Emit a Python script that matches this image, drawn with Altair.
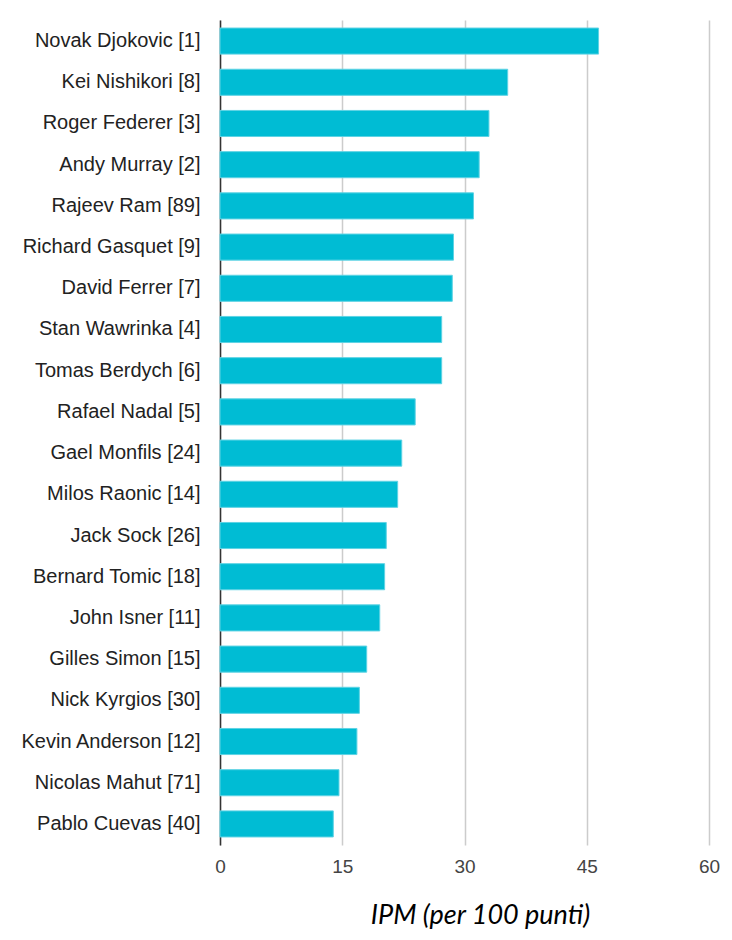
import altair as alt
import pandas as pd

players = [
    "Novak Djokovic [1]", "Kei Nishikori [8]", "Roger Federer [3]", "Andy Murray [2]",
    "Rajeev Ram [89]", "Richard Gasquet [9]", "David Ferrer [7]", "Stan Wawrinka [4]",
    "Tomas Berdych [6]", "Rafael Nadal [5]", "Gael Monfils [24]", "Milos Raonic [14]",
    "Jack Sock [26]", "Bernard Tomic [18]", "John Isner [11]", "Gilles Simon [15]",
    "Nick Kyrgios [30]", "Kevin Anderson [12]", "Nicolas Mahut [71]", "Pablo Cuevas [40]",
]
ipm = [46.45, 35.3, 33.0, 31.8, 31.1, 28.65, 28.5, 27.2, 27.2, 23.95,
       22.3, 21.8, 20.4, 20.2, 19.6, 18.0, 17.1, 16.8, 14.6, 13.9]
x_ticks = [0, 15, 30, 45, 60]

df = pd.DataFrame({"player": players, "ipm": ipm})

chart = alt.Chart(df).mark_bar(
    color="#00BCD4", stroke="#5ED3E4", strokeWidth=1
).encode(
    x=alt.X(
        "ipm:Q",
        scale=alt.Scale(domain=[0, 60], nice=False),
        axis=alt.Axis(
            values=x_ticks,
            title="IPM (per 100 punti)",
            titleFont="Lato",
            titleFontStyle="italic",
            titleFontWeight="normal",
            titleFontSize=27,
            titleColor="#000000",
            titleX=260,
            titleY=70,
            titleBaseline="middle",
            titleAnchor="middle",
            labelFont="Liberation Sans",
            labelFontSize=19,
            labelColor="#444444",
            labelPadding=12,
            labelFlush=False,
            ticks=False,
            domain=False,
            grid=True,
            gridColor="#CCCCCC",
            gridWidth=1.5,
        ),
    ),
    y=alt.Y(
        "player:N",
        sort=players,
        scale=alt.Scale(paddingInner=0.367, paddingOuter=0.195),
        axis=alt.Axis(
            title=None,
            labelFont="Liberation Sans",
            labelFontSize=20,
            labelColor="#222222",
            labelPadding=20,
            labelLimit=300,
            ticks=False,
            domain=True,
            domainColor="#333333",
            domainWidth=1.5,
            grid=False,
        ),
    ),
).properties(
    width=489,
    height=825,
    padding={"left": 220, "top": 20, "right": 23, "bottom": 95},
    autosize=alt.AutoSizeParams(type="none"),
).configure_view(stroke=None)

chart.save("out.html", embed_options={"renderer": "svg", "actions": False})
